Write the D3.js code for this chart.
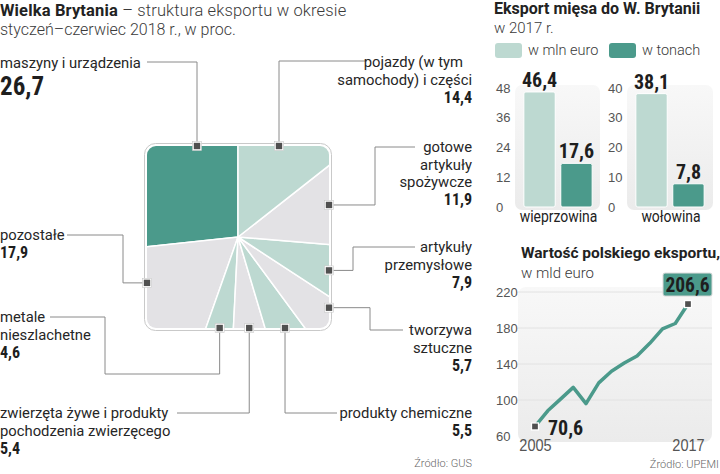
<!DOCTYPE html>
<html>
<head>
<meta charset="utf-8">
<style>
    body { margin: 0; background: #fff; }
    svg { display: block; font-family: Roboto, "Noto Sans", sans-serif; }
    .lbl { font-size: 14.8px; fill: #262626; }
    .num { font-family: "Liberation Sans Narrow", "Roboto Condensed", "DejaVu Sans Condensed", sans-serif; font-weight: bold; fill: #1e1e1e; }
    .light { font-weight: 300; fill: #3a3a3a; }
    .tick text { font-size: 13px; fill: #555; font-weight: 300; }
    .src { font-size: 11px; fill: #666; font-weight: 300; }
</style>
</head>
<body>
<svg width="720" height="474"></svg>
<script src="https://d3js.org/d3.v7.min.js"></script>
<script>
// ---- data ----
const categories = ["maszyny i urządzenia", "pozostałe", "metale nieszlachetne",
    "zwierzęta żywe i produkty pochodzenia zwierzęcego", "produkty chemiczne",
    "tworzywa sztuczne", "artykuły przemysłowe", "gotowe artykuły spożywcze",
    "pojazdy (w tym samochody) i części"];
const shares = [26.7, 17.9, 4.6, 5.4, 5.5, 5.7, 7.9, 11.9, 14.4];

const meatTypes = ["wieprzowina", "wołowina"];
const meatEuro = [46.4, 38.1];
const meatTons = [17.6, 7.8];
const meatTicks = [[0, 12, 24, 36, 48], [0, 10, 20, 30, 40]];

const years = [2005, 2006, 2007, 2008, 2009, 2010, 2011, 2012, 2013, 2014, 2015, 2016, 2017];
const exportValues = [70.6, 88, 101, 114, 96, 119, 132, 141, 149, 163, 179, 185, 206.6];
const exportTicks = [60, 100, 140, 180, 220];

// ---- colours ----
const dark = "#4b9a8b", lightGreen = "#bdd9d1", grey = "#e3e2e5";

let svg = d3.select("svg")
let defs = svg.append("defs")

let comma = v => d3.format(".1f")(v).replace(".", ",")

// the reference face is narrower than Roboto, so some labels are squeezed a bit
function squeeze(sel, f) {
    sel.each(function () {
        let w = this.getComputedTextLength()
        d3.select(this).attr("textLength", w * f).attr("lengthAdjust", "spacingAndGlyphs")
    })
}

// ---- titles ----
let t1 = svg.append("text").attr("x", 0).attr("y", 15.5)
    .style("font-size", "16.5px").style("letter-spacing", "0.15px")
t1.append("tspan").style("font-weight", "bold").attr("fill", "#222").text("Wielka Brytania")
t1.append("tspan").attr("class", "light").text(" – struktura eksportu w okresie")
svg.append("text").attr("class", "light").attr("x", 0).attr("y", 34.5).style("font-size", "16px")
    .text("styczeń–czerwiec 2018 r., w proc.")

// ---- square pie ----
let sq = { x: 147, y: 146, s: 182, r: 9 }
let cx = sq.x + sq.s / 2, cy = sq.y + sq.s / 2

svg.append("rect")
    .attr("x", sq.x - 2.5).attr("y", sq.y - 2.5)
    .attr("width", sq.s + 5).attr("height", sq.s + 5)
    .attr("rx", sq.r + 2).attr("fill", "#fff")
    .attr("stroke", "#c9c9c9").attr("stroke-width", 1)

defs.append("clipPath").attr("id", "sqclip")
    .append("rect")
    .attr("x", sq.x).attr("y", sq.y).attr("width", sq.s).attr("height", sq.s).attr("rx", sq.r)

let pie = d3.pie().sort(null).startAngle(0).endAngle(-2 * Math.PI)
let arcs = pie(shares)
let arc = d3.arc().innerRadius(0).outerRadius(sq.s)

svg.append("g")
    .attr("clip-path", "url(#sqclip)")
    .append("g")
    .attr("transform", `translate(${cx},${cy})`)
    .selectAll("path")
    .data(arcs)
    .join("path")
    .attr("d", arc)
    .attr("fill", (d, i) => i === 0 ? dark : (i % 2 === 1 ? grey : lightGreen))
    .attr("stroke", "#fff")
    .attr("stroke-width", 1.5)

// label layout: which edge the marker sits on, the leader route and text position
let layout = [
    { edge: "top", route: [["v", 62], ["h", 147]], x: 0, y: 68, anchor: "start", lines: ["maszyny i urządzenia"], big: true },
    { edge: "left", route: [["h", 123], ["v", 235], ["h", 67]], x: 0, y: 240, anchor: "start", lines: ["pozostałe"] },
    { edge: "bottom", route: [["v", 374], ["h", 105], ["v", 317], ["h", 50]], x: 0, y: 322, anchor: "start", lines: ["metale", "nieszlachetne"] },
    { edge: "bottom", route: [["v", 413], ["h", 177]], x: 0, y: 418, anchor: "start", lines: ["zwierzęta żywe i produkty", "pochodzenia zwierzęcego"] },
    { edge: "bottom", route: [["v", 413], ["h", 337]], x: 472, y: 418, anchor: "end", lines: ["produkty chemiczne"] },
    { edge: "right", route: [["h", 370], ["v", 330], ["h", 403]], x: 472, y: 335, anchor: "end", lines: ["tworzywa", "sztuczne"] },
    { edge: "right", route: [["h", 353], ["v", 247], ["h", 415]], x: 472, y: 252, anchor: "end", lines: ["artykuły", "przemysłowe"] },
    { edge: "right", route: [["h", 375], ["v", 147], ["h", 415]], x: 472, y: 152, anchor: "end", lines: ["gotowe", "artykuły", "spożywcze"] },
    { edge: "top", route: [["v", 61], ["h", 367]], x: 472, y: 67, anchor: "end", lines: ["pojazdy (w tym", "samochody) i części"], firstDx: -9 }
]
let lineGap = 17.5, valueGap = 18

// where a ray at angle a leaves the square
function hit(a) {
    let h = sq.s / 2, dx = Math.sin(a), dy = -Math.cos(a)
    let tx = Math.abs(dx) > 1e-9 ? h / Math.abs(dx) : Infinity
    let ty = Math.abs(dy) > 1e-9 ? h / Math.abs(dy) : Infinity
    let t = Math.min(tx, ty)
    let px = cx + dx * t, py = cy + dy * t
    let edge = tx < ty ? (dx > 0 ? "right" : "left") : (dy > 0 ? "bottom" : "top")
    return { px, py, edge }
}

// marker = middle of the slice's stretch along its edge (minus the rounded corner)
function markerPos(d, edge) {
    let horiz = edge === "top" || edge === "bottom"
    let vals = []
    for (let k = 0; k <= 400; k++) {
        let a = d.startAngle + (d.endAngle - d.startAngle) * k / 400
        let p = hit(a)
        if (p.edge === edge) vals.push(horiz ? p.px : p.py)
    }
    let base = horiz ? sq.x : sq.y
    let lo = Math.max(d3.min(vals), base + sq.r)
    let hi = Math.min(d3.max(vals), base + sq.s - sq.r)
    let m = (lo + hi) / 2
    if (edge === "top") return [m, sq.y]
    if (edge === "bottom") return [m, sq.y + sq.s]
    if (edge === "left") return [sq.x, m]
    return [sq.x + sq.s, m]
}

let leaders = svg.append("g")
let markers = svg.append("g")
let labels = svg.append("g")

arcs.forEach(function (d, i) {
    let L = layout[i]
    let m = markerPos(d, L.edge)
    let pts = [m.slice()]
    let cur = m.slice()
    L.route.forEach(function (r) {
        if (r[0] === "v") cur = [cur[0], r[1]]
        else cur = [r[1], cur[1]]
        pts.push(cur)
    })
    leaders.append("path")
        .attr("d", d3.line()(pts))
        .attr("fill", "none")
        .attr("stroke", "#8a8a8a")
        .attr("stroke-width", 1)

    markers.append("rect")
        .attr("x", m[0] - 4.5).attr("y", m[1] - 4.5)
        .attr("width", 9).attr("height", 9)
        .attr("fill", "#fff").attr("stroke", "#c8c8c8").attr("stroke-width", 0.6)
    markers.append("rect")
        .attr("x", m[0] - 3.2).attr("y", m[1] - 3.2)
        .attr("width", 6.4).attr("height", 6.4)
        .attr("fill", "#505050")

    L.lines.forEach(function (ln, j) {
        labels.append("text")
            .attr("class", "lbl")
            .attr("x", L.x + (j === 0 && L.firstDx ? L.firstDx : 0)).attr("y", L.y + j * lineGap)
            .attr("text-anchor", L.anchor)
            .text(ln)
    })
    let vt = labels.append("text")
        .attr("class", "num")
        .attr("text-anchor", L.anchor)
        .attr("x", L.x)
        .text(comma(shares[i]))
    if (L.big) {
        vt.attr("y", L.y + 27).style("font-size", "25px").attr("fill", "#9c1c33")
    } else {
        vt.attr("y", L.y + (L.lines.length - 1) * lineGap + valueGap).style("font-size", "16px")
    }
})

svg.append("text").attr("class", "src").attr("x", 472).attr("y", 467)
    .attr("text-anchor", "end").text("Źródło: GUS")

// ---- meat export bars ----
svg.append("text").attr("x", 494).attr("y", 14)
    .style("font-size", "16px").style("font-weight", "bold").attr("fill", "#222")
    .text("Eksport mięsa do W. Brytanii")
svg.append("text").attr("class", "light").attr("x", 494).attr("y", 33)
    .style("font-size", "15px").text("w 2017 r.")

let legendItems = [["w mln euro", lightGreen, 495], ["w tonach", dark, 609]]
legendItems.forEach(function (l) {
    svg.append("rect").attr("x", l[2]).attr("y", 43).attr("width", 27).attr("height", 15)
        .attr("rx", 3).attr("fill", l[1])
    svg.append("text").attr("class", "light").attr("x", l[2] + 33).attr("y", 55)
        .style("font-size", "14.5px").text(l[0])
})

let grad = defs.append("linearGradient").attr("id", "panelGrad")
    .attr("x1", 0).attr("x2", 0).attr("y1", 0).attr("y2", 1)
grad.append("stop").attr("offset", "0%").attr("stop-color", "#f8f8f8")
grad.append("stop").attr("offset", "100%").attr("stop-color", "#ebebeb")

let panels = [
    { axisX: 496, bg: [515, 600], range: [522, 594] },
    { axisX: 608, bg: [627, 713], range: [634, 706] }
]

meatTypes.forEach(function (name, i) {
    let P = panels[i]
    let top = d3.max(meatTicks[i])
    let y = d3.scaleLinear().domain([0, top]).range([207, 88])
    let x = d3.scaleBand().domain(["euro", "tons"]).range(P.range).paddingInner(0.15).paddingOuter(0.05)

    svg.append("rect")
        .attr("x", P.bg[0]).attr("y", y(top) - 3)
        .attr("width", P.bg[1] - P.bg[0]).attr("height", y(0) - y(top) + 6)
        .attr("rx", 7).attr("fill", "url(#panelGrad)")

    svg.append("g")
        .attr("transform", `translate(${P.axisX},0)`)
        .call(d3.axisRight(y).tickValues(meatTicks[i]).tickSize(0).tickPadding(0))
        .call(g => g.select(".domain").remove())

    let vals = [["euro", meatEuro[i], lightGreen], ["tons", meatTons[i], dark]]
    vals.forEach(function (v) {
        svg.append("rect")
            .attr("x", x(v[0])).attr("y", y(v[1]))
            .attr("width", x.bandwidth()).attr("height", y(0) - y(v[1]))
            .attr("rx", 2).attr("fill", v[2])
            .attr("stroke", "#fff").attr("stroke-width", 1)
        svg.append("text").attr("class", "num")
            .attr("x", x(v[0]) + x.bandwidth() / 2).attr("y", y(v[1]) - 5)
            .attr("text-anchor", "middle").style("font-size", "20px")
            .text(comma(v[1]))
    })

    svg.append("text").attr("x", (P.bg[0] + P.bg[1]) / 2 + 1).attr("y", 222)
        .attr("text-anchor", "middle").style("font-size", "16px").attr("fill", "#222")
        .text(name)
        .call(squeeze, 0.87)
})

// ---- export line ----
svg.append("text").attr("x", 521).attr("y", 258)
    .style("font-size", "15.5px").style("font-weight", "bold").attr("fill", "#222")
    .text("Wartość polskiego eksportu,")
svg.append("text").attr("class", "light").attr("x", 521).attr("y", 278)
    .style("font-size", "15px").text("w mld euro")

let lx = d3.scaleLinear().domain([2005, 2017]).range([535, 688])
let ly = d3.scaleLinear().domain([60, 220]).range([436, 292])

svg.append("rect").attr("x", 518).attr("y", 287)
    .attr("width", 194).attr("height", 155).attr("rx", 8).attr("fill", "url(#panelGrad)")

svg.append("g")
    .selectAll("line")
    .data(exportTicks.slice(1))
    .join("line")
    .attr("x1", 518).attr("x2", 712)
    .attr("y1", d => ly(d)).attr("y2", d => ly(d))
    .attr("stroke", "#e2e2e2").attr("stroke-width", 1)

svg.append("g")
    .attr("transform", "translate(496,0)")
    .call(d3.axisRight(ly).tickValues(exportTicks).tickSize(0).tickPadding(0))
    .call(g => g.select(".domain").remove())

svg.append("g")
    .attr("transform", "translate(0,439)")
    .call(d3.axisBottom(lx).tickValues([2005, 2017]).tickFormat(d3.format("d")).tickSize(0).tickPadding(0))
    .call(g => g.select(".domain").remove())
    .call(g => g.selectAll("text").style("font-size", "16.5px").style("font-weight", "normal").attr("fill", "#222"))
    .call(g => g.selectAll("text").call(squeeze, 0.88))

let series = years.map((yr, i) => [yr, exportValues[i]])
svg.append("path")
    .datum(series)
    .attr("d", d3.line().x(d => lx(d[0])).y(d => ly(d[1])))
    .attr("fill", "none").attr("stroke", dark)
    .attr("stroke-width", 3.5).attr("stroke-linejoin", "round")

let ends = [series[0], series[series.length - 1]]
svg.append("g").selectAll("rect")
    .data(ends)
    .join("rect")
    .attr("x", d => lx(d[0]) - 3.5).attr("y", d => ly(d[1]) - 3.5)
    .attr("width", 7).attr("height", 7)
    .attr("fill", "#505050").attr("stroke", "#fff").attr("stroke-width", 1.3)

svg.append("text").attr("class", "num")
    .attr("x", lx(ends[0][0]) + 13).attr("y", ly(ends[0][1]) + 9)
    .style("font-size", "20px")
    .text(comma(ends[0][1]))

let last = ends[1]
svg.append("rect")
    .attr("x", lx(last[0]) - 25).attr("y", ly(last[1]) - 31)
    .attr("width", 49).attr("height", 23).attr("rx", 2)
    .attr("fill", dark).attr("stroke", "#d9d9d9").attr("stroke-width", 1)
svg.append("text").attr("class", "num")
    .attr("x", lx(last[0]) - 0.5).attr("y", ly(last[1]) - 12.5)
    .attr("text-anchor", "middle").style("font-size", "19.5px").attr("fill", "#fff")
    .text(comma(last[1]))

svg.append("text").attr("class", "src").attr("x", 719).attr("y", 468)
    .attr("text-anchor", "end").text("Źródło: UPEMI")
</script>
</body>
</html>
